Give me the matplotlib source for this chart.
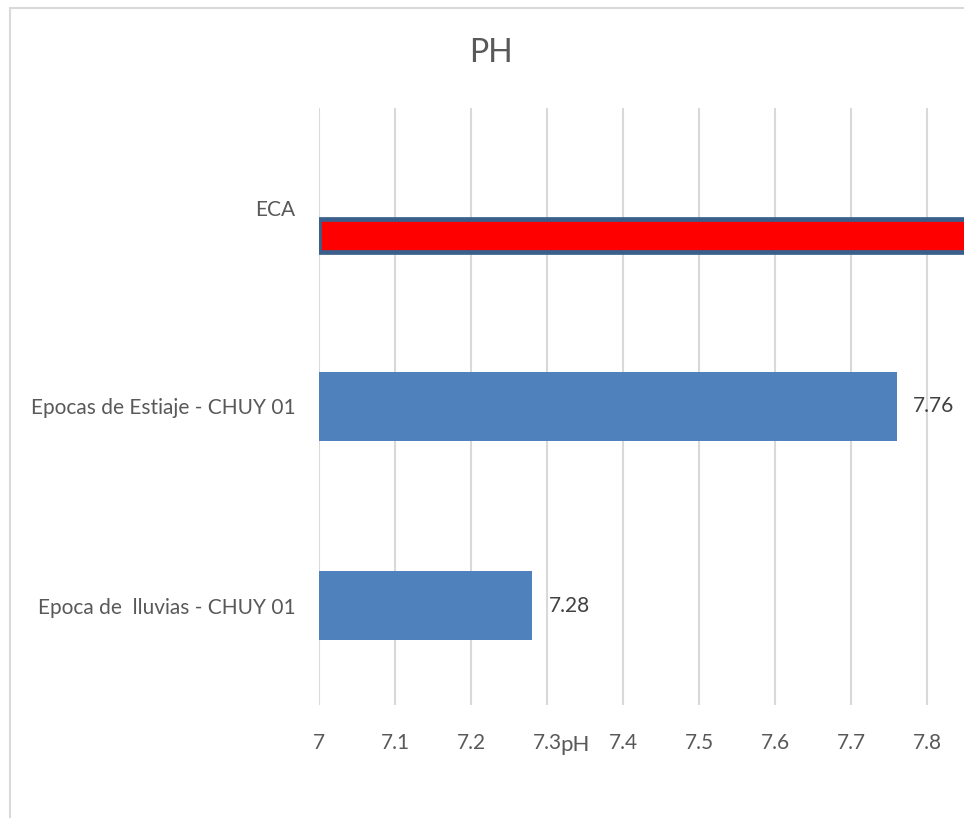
import matplotlib
matplotlib.use("Agg")
import matplotlib.pyplot as plt
from matplotlib.patches import Rectangle

categories = ["ECA", "Epocas de Estiaje - CHUY 01", "Epoca de  lluvias - CHUY 01"]
values = [8.5, 7.76, 7.28]
value_labels = ["8.5", "7.76", "7.28"]
xticks = [7, 7.1, 7.2, 7.3, 7.4, 7.5, 7.6, 7.7, 7.8]
xtick_labels = ["7", "7.1", "7.2", "7.3", "7.4", "7.5", "7.6", "7.7", "7.8"]

plt.rcParams['font.family'] = ['Lato', 'DejaVu Sans']
W, H = 964, 818
fig = plt.figure(figsize=(W/100, H/100), dpi=100)

# chart border
fig.patches.append(Rectangle((10/W, 0 - 0.01), 1.2, (H-8)/H + 0.01, transform=fig.transFigure,
                             fill=False, edgecolor='#D9D9D9', linewidth=1.5))

x0, x1 = 7.0, 8.6
px_per_unit = 760.0
left_px, top_px, bot_px = 319, 108, 705
ax_w = (x1 - x0) * px_per_unit
ax = fig.add_axes([left_px/W, (H-bot_px)/H, ax_w/W, (bot_px-top_px)/H])
ax.set_xlim(x0, x1)
ax.set_ylim(-0.5, 2.5)

ypos = [2, 1, 0]
text_col = '#595959'
# ECA bar (offset, thinner, red with dark blue border)
ax.barh(ypos[0] - 0.14, values[0] - x0, left=x0, height=0.165, color='#FF0000',
        edgecolor='#3A5F8B', linewidth=3.4, joinstyle='round', zorder=3)
for i in (1, 2):
    ax.barh(ypos[i], values[i] - x0, left=x0, height=0.35, color='#4F81BD', zorder=3)
    ax.text(values[i] + 0.022, ypos[i], value_labels[i], va='center', ha='left',
            fontsize=15, color='#404040')

ax.set_xticks(xticks)
ax.set_xticklabels(xtick_labels)
ax.set_yticks(ypos)
ax.set_yticklabels(categories)
ax.tick_params(axis='both', length=0, labelsize=15, labelcolor=text_col)
ax.tick_params(axis='x', pad=20)
ax.tick_params(axis='y', pad=17)
ax.grid(axis='x', color='#D9D9D9', linewidth=1.5, zorder=0)
ax.set_axisbelow(True)
for s in ax.spines.values():
    s.set_visible(False)

fig.text(491/W, 1 - 53/H, "PH", ha='center', va='center', fontsize=23, color=text_col)
fig.text(575/W, 1 - 745/H, "pH", ha='center', va='center', fontsize=16, color=text_col)

fig.savefig("out.png", dpi=100)
